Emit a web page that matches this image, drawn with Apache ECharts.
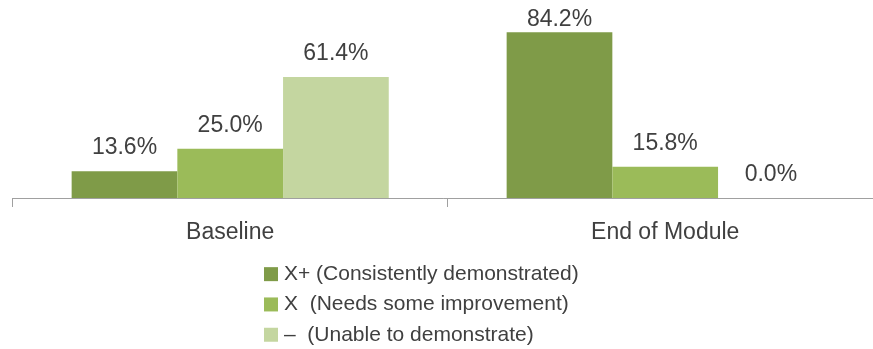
<!DOCTYPE html>
<html>
<head>
<meta charset="utf-8">
<script src="https://cdn.jsdelivr.net/npm/echarts@6/dist/echarts.min.js"></script>
<style>
html,body{margin:0;padding:0;background:#fff;}
#chart{width:873px;height:349px;}
</style>
</head>
<body>
<div id="chart"></div>
<script>
const categories = ['Baseline', 'End of Module'];
const seriesNames = ['X+ (Consistently demonstrated)', 'X  (Needs some improvement)', '\u2013  (Unable to demonstrate)'];
const consistentlyDemonstrated = [13.6, 84.2];
const needsImprovement = [25.0, 15.8];
const unableToDemonstrate = [61.4, 0.0];

const colors = ['#7F9B48', '#9BBB59', '#C4D6A0'];
const font = 'Liberation Sans';
const textColor = '#404040';

const valuesList = [consistentlyDemonstrated, needsImprovement, unableToDemonstrate];

const chart = echarts.init(document.getElementById('chart'), null, {renderer: 'canvas'});

const series = valuesList.map((vals, si) => ({
  name: seriesNames[si],
  type: 'bar',
  barGap: '0%',
  barCategoryGap: '27.1%',
  itemStyle: {color: colors[si]},
  label: {
    show: true,
    position: 'top',
    distance: 12,
    fontFamily: font,
    fontSize: 23,
    color: textColor,
    formatter: p => p.value.toFixed(1) + '%'
  },
  data: vals.map(v => v > 80 ? {value: v, label: {distance: 1}} : v)
}));

chart.setOption({
  animation: false,
  color: colors,
  grid: {left: 12.7, width: 870, top: 1, height: 197, containLabel: false, outerBoundsMode: 'none'},
  xAxis: {
    type: 'category',
    data: categories,
    boundaryGap: true,
    axisLine: {show: true, lineStyle: {color: '#A0A0A0', width: 1}},
    axisTick: {show: true, length: 9, alignWithLabel: false, lineStyle: {color: '#A0A0A0'}},
    axisLabel: {margin: 23, fontFamily: font, fontSize: 23, color: textColor}
  },
  yAxis: {
    type: 'value',
    min: 0,
    max: 100,
    show: false,
    splitLine: {show: false}
  },
  legend: {
    orient: 'vertical',
    left: 264,
    top: 259,
    height: 100,
    padding: 0,
    itemWidth: 14,
    itemHeight: 14,
    itemGap: 0,
    icon: 'rect',
    textStyle: {fontFamily: font, fontSize: 21, color: textColor, lineHeight: 30.3, padding: [0, 0, 0, 1]},
    data: seriesNames
  },
  series: series
});
</script>
</body>
</html>
